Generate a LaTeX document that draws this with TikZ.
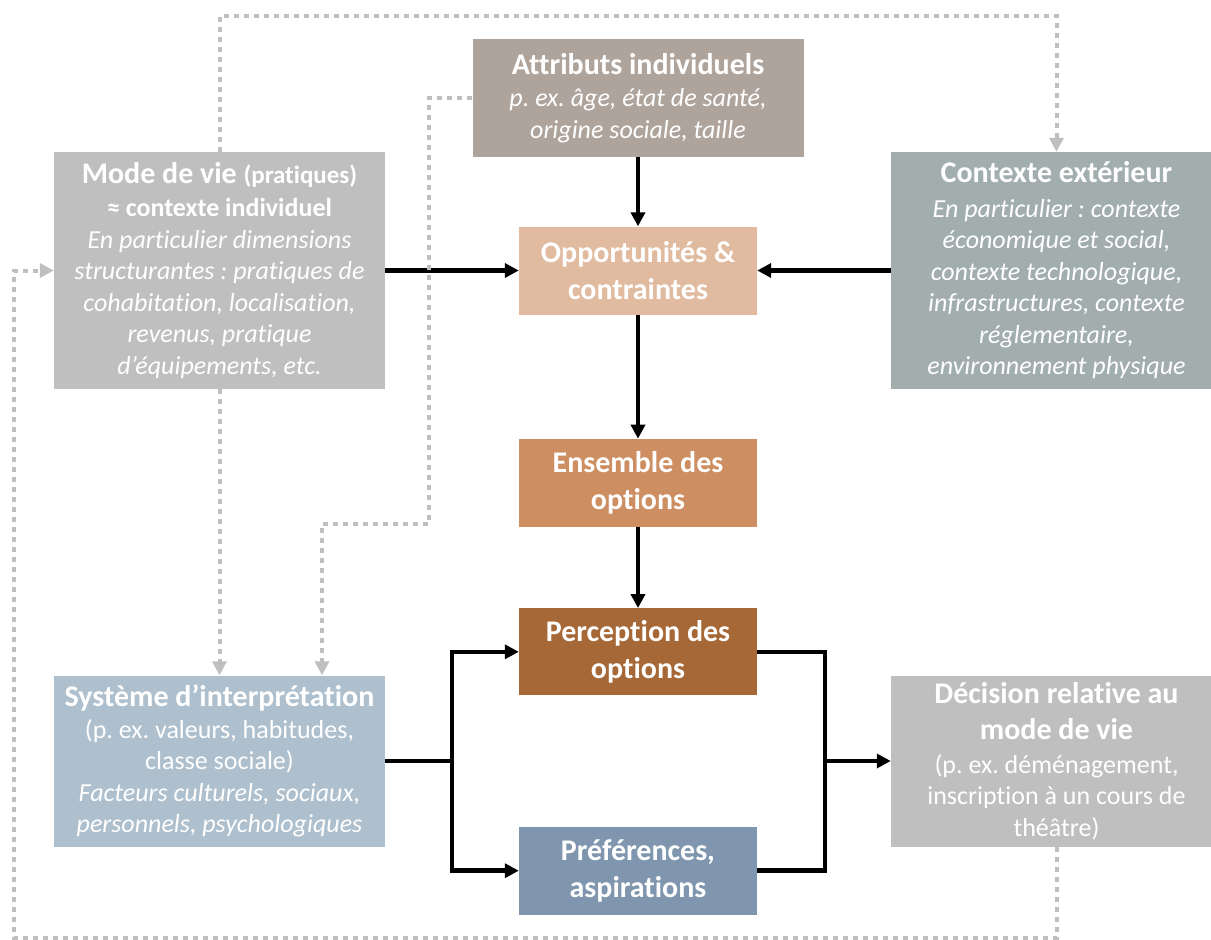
\documentclass[tikz,border=0pt]{standalone}
\usepackage{fontspec}
\setmainfont{Carlito}[Ligatures=NoCommon]
\usetikzlibrary{positioning,arrows.meta}

\definecolor{cattr}{RGB}{175,164,155}
\definecolor{cmode}{RGB}{191,191,191}
\definecolor{cctx}{RGB}{162,174,174}
\definecolor{copp}{RGB}{225,187,160}
\definecolor{cens}{RGB}{205,142,97}
\definecolor{cperc}{RGB}{166,104,54}
\definecolor{csys}{RGB}{174,191,205}
\definecolor{cpref}{RGB}{127,150,174}
\definecolor{cdot}{RGB}{191,191,191}

\newcommand{\boxtitle}{\fontsize{30}{36.5}\selectfont\bfseries}
\newcommand{\boxtext}{\fontsize{26}{31.5}\selectfont}
\frenchspacing

\begin{document}
\begin{tikzpicture}[x=1pt, y=-1pt, >={Triangle[length=14pt,width=14pt]},
	box/.style={fill=#1, text=white, align=center, inner sep=0pt, font=\boxtext},
	wide/.style={minimum width=331pt},
	small/.style={minimum width=238pt, minimum height=88pt, font=\boxtitle},
	line/.style={line width=4.5pt},
	dotline/.style={draw=cdot, line width=4pt, dash pattern=on 5pt off 5pt}]
	\useasboundingbox (0,0) rectangle (1211,940);

	\node (d) [box=copp, small] at (638,270.5) {Opportunités \&\\ contraintes};
	\node (a) [box=cattr, wide, minimum height=118pt] at (638,98) {{\boxtitle Attributs individuels}\\[1pt] \itshape p. ex. âge, état de santé,\\ \itshape origine sociale, taille};
	\node (b) [box=cmode, wide, minimum height=237pt] at (219.5,270.5) {{\boxtitle Mode de vie {\fontsize{25}{30}\selectfont (pratiques)}}\\[2pt] {\bfseries ≈ contexte individuel}\\ \itshape En particulier dimensions\\ \itshape structurantes : pratiques de\\ \itshape cohabitation, localisation,\\ \itshape revenus, pratique\\ \itshape d’équipements, etc.};
	\node (c) [box=cctx, wide, minimum height=237pt] at (1056.5,270.5) {{\boxtitle Contexte extérieur}\\[3pt] \itshape En particulier : contexte\\ \itshape économique et social,\\ \itshape contexte technologique,\\ \itshape infrastructures, contexte\\ \itshape réglementaire,\\ \itshape environnement physique};
	\node (e) [box=cens, small, below=124pt of d] {Ensemble des\\ options};
	\node (f) [box=cperc, small, minimum height=87pt, below=81pt of e] {Perception des\\ options};
	\node (h) [box=cpref, small, below=131pt of f] {Préférences,\\ aspirations};
	\node (g) [box=csys, wide, minimum height=171pt] at (219.5,761) {{\boxtitle Système d’interprétation}\\ (p. ex. valeurs, habitudes,\\ classe sociale)\\ \itshape Facteurs culturels, sociaux,\\ \itshape personnels, psychologiques};
	\node (i) [box=cmode, wide, minimum height=171pt] at (1056.5,761) {{\boxtitle Décision relative au}\\[5pt] {\boxtitle mode de vie}\\[2pt] (p. ex. déménagement,\\ inscription à un cours de\\ théâtre)};

	\coordinate (s) at (452,761);
	\coordinate (r) at (825,761);

	\draw[->, line] (a) -- (d);
	\draw[->, line] (b) -- (d);
	\draw[->, line] (c) -- (d);
	\draw[->, line] (d) -- (e);
	\draw[->, line] (e) -- (f);
	\draw[line] (g.east) -- (s);
	\draw[->, line] (s) |- (f.west);
	\draw[->, line] (s) |- (h.west);
	\draw[line] (f.east) -| (r);
	\draw[line] (h.east) -| (r);
	\draw[->, line] (r) -- (i.west);

	\draw[->, dotline] (b.north) -- ++(0,-136) -| (c.north);
	\draw[->, dotline] (a.west) -| (429,524) -| ([xshift=102.5pt]g.north);
	\draw[->, dotline] (b.south) -- (g.north);
	\draw[->, dotline] (i.south) |- (14,938) |- (b.west);
\end{tikzpicture}
\end{document}
